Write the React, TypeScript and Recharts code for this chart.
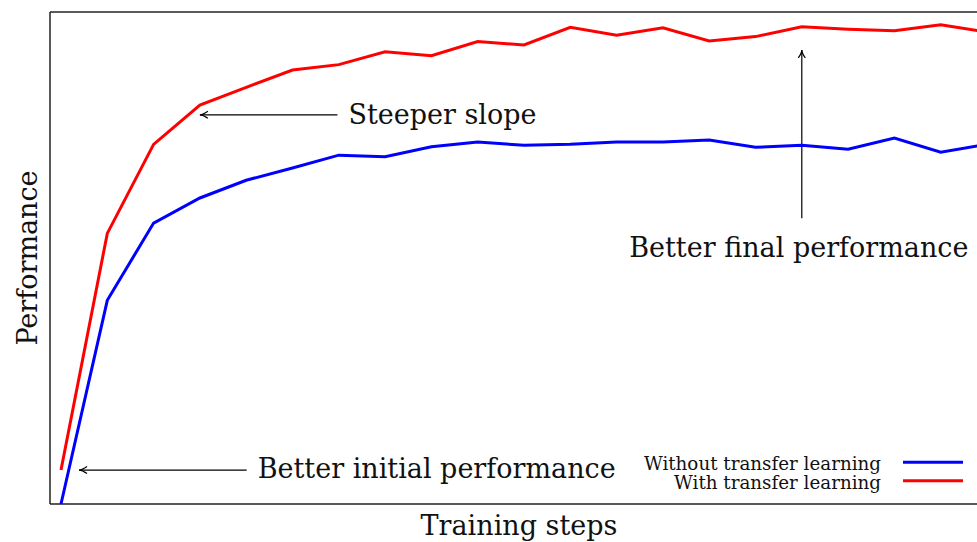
import React from 'react'
import { LineChart, Line, XAxis, YAxis, ReferenceLine, Legend } from 'recharts'

const steps = [0, 1, 2, 3, 4, 5, 6, 7, 8, 9, 10, 11, 12, 13, 14, 15, 16, 17, 18, 19, 20]
const withoutTransfer = [
  0.0, 0.414, 0.571, 0.622, 0.658, 0.683, 0.709, 0.706, 0.726, 0.736, 0.729,
  0.731, 0.736, 0.736, 0.74, 0.725, 0.729, 0.721, 0.744, 0.715, 0.731,
]
const withTransfer = [
  0.069, 0.55, 0.731, 0.811, 0.847, 0.882, 0.893, 0.919, 0.911, 0.94, 0.933,
  0.969, 0.953, 0.968, 0.941, 0.95, 0.97, 0.965, 0.962, 0.974, 0.959,
]
const seriesNames = ['Without transfer learning', 'With transfer learning']
const axisTitles = { x: 'Training steps', y: 'Performance' }
const xDomain = [-0.2376, 20.2376]
const yDomain = [0, 1]

// annotation arrows: tail -> head, in data units
const notes = [
  { text: 'Steeper slope', tail: [5.97, 0.791], head: [3.0, 0.791], anchor: 'start', dx: 11, dy: 9.5 },
  { text: 'Better final performance', tail: [16.0, 0.581], head: [16.0, 0.923], anchor: 'middle', dx: -3, dy: 38.5 },
  { text: 'Better initial performance', tail: [4.01, 0.069], head: [0.39, 0.069], anchor: 'start', dx: 11, dy: 8 },
]

const data = steps.map((s, i) => ({ step: s, without: withoutTransfer[i], with: withTransfer[i] }))

const SERIF = '"DejaVu Serif", serif'
const INK = '#222'

function arrowShape(text: string, anchor: string, dx: number, dy: number) {
  return (props: any) => {
    const { x1, y1, x2, y2 } = props
    const len = Math.hypot(x2 - x1, y2 - y1) || 1
    const ux = (x2 - x1) / len
    const uy = (y2 - y1) / len
    const nx = -uy
    const ny = ux
    const bx = x2 - ux * 8
    const by = y2 - uy * 8
    const cx = x2 - ux * 3
    const cy = y2 - uy * 3
    const head = `M${bx + nx * 3.5},${by + ny * 3.5} Q${cx},${cy} ${x2},${y2} Q${cx},${cy} ${bx - nx * 3.5},${by - ny * 3.5}`
    return (
      <g>
        <line x1={x1} y1={y1} x2={x2} y2={y2} stroke="#000" strokeWidth={1.2} />
        <path d={head} stroke="#000" strokeWidth={1.2} fill="none" />
        <text x={x1 + dx} y={y1 + dy} textAnchor={anchor as any} fontFamily={SERIF} fontSize={27} fill="#111">
          {text}
        </text>
      </g>
    )
  }
}

// frame edges, with the axis titles hung on them
function bottomEdge(props: any) {
  const { x1, y1, x2, y2 } = props
  return (
    <g>
      <line x1={x1} y1={y1} x2={x2} y2={y2} stroke={INK} strokeWidth={1.5} />
      <text x={(x1 + x2) / 2 - 5} y={y1 + 31} textAnchor="middle" fontFamily={SERIF} fontSize={27} fill="#111">
        {axisTitles.x}
      </text>
    </g>
  )
}

function leftEdge(props: any) {
  const { x1, y1, x2, y2 } = props
  const cy = (y1 + y2) / 2
  const tx = x1 - 13
  return (
    <g>
      <line x1={x1} y1={y1} x2={x2} y2={y2} stroke={INK} strokeWidth={1.5} />
      <text x={tx} y={cy} transform={`rotate(-90, ${tx}, ${cy})`} textAnchor="middle" fontFamily={SERIF} fontSize={27} fill="#111">
        {axisTitles.y}
      </text>
    </g>
  )
}

function LegendBox({ payload }: any) {
  const items = [...(payload || [])].sort(
    (a: any, b: any) => seriesNames.indexOf(a.value) - seriesNames.indexOf(b.value),
  )
  return (
    <svg width={370} height={60} style={{ display: 'block' }}>
      {items.map((entry: any, i: number) => (
        <g key={entry.value}>
          <text x={281} y={25 + i * 19} textAnchor="end" fontFamily={SERIF} fontSize={18.3} fill="#111">
            {entry.value}
          </text>
          <line x1={303} x2={363} y1={17.3 + i * 18.4} y2={17.3 + i * 18.4} stroke={entry.color} strokeWidth={3} />
        </g>
      ))}
    </svg>
  )
}

export default function App() {
  return (
    <div style={{ position: 'fixed', left: 0, top: 0, width: 977, height: 542, overflow: 'hidden', background: '#fff' }}>
      <LineChart width={1010} height={542} data={data} margin={{ top: 12, right: 12, bottom: 38, left: 50 }}>
        <XAxis dataKey="step" type="number" domain={xDomain} hide />
        <YAxis type="number" domain={yDomain} hide />
        <ReferenceLine y={yDomain[1]} stroke={INK} strokeWidth={1.5} ifOverflow="visible" />
        <ReferenceLine y={yDomain[0]} ifOverflow="visible" shape={bottomEdge} />
        <ReferenceLine x={xDomain[0]} ifOverflow="visible" shape={leftEdge} />
        {notes.map((n) => (
          <ReferenceLine
            key={n.text}
            segment={[{ x: n.tail[0], y: n.tail[1] }, { x: n.head[0], y: n.head[1] }]}
            ifOverflow="visible"
            shape={arrowShape(n.text, n.anchor, n.dx, n.dy)}
          />
        ))}
        <Line type="linear" dataKey="without" name={seriesNames[0]} stroke="#0000ff" strokeWidth={3} dot={false} isAnimationActive={false} />
        <Line type="linear" dataKey="with" name={seriesNames[1]} stroke="#ff0000" strokeWidth={3} dot={false} isAnimationActive={false} />
        <Legend
          layout="vertical"
          align="center"
          verticalAlign="middle"
          content={<LegendBox />}
          wrapperStyle={{ left: 600, top: 445, width: 370, height: 60 }}
        />
      </LineChart>
    </div>
  )
}
